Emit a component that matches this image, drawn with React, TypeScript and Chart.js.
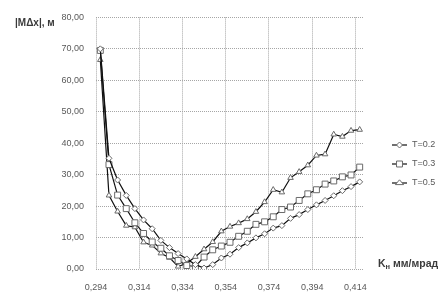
import React, { useEffect, useRef } from 'react';
import { Chart, registerables } from 'chart.js';

Chart.register(...registerables);

const categories = [
  '0,294', '0,298', '0,302', '0,306', '0,310', '0,314', '0,318', '0,322', '0,326', '0,330',
  '0,334', '0,338', '0,342', '0,346', '0,350', '0,354', '0,358', '0,362', '0,366', '0,370',
  '0,374', '0,378', '0,382', '0,386', '0,390', '0,394', '0,398', '0,402', '0,406', '0,410',
  '0,414',
];
const labelEvery = 5;

const seriesT02 = [
  70.0, 35.2, 28.3, 23.4, 19.2, 15.6, 12.8, 9.1, 6.8, 4.9,
  3.2, 1.4, 0.3, 1.4, 3.5, 4.7, 6.8, 8.3, 9.9, 11.2,
  13.0, 13.8, 16.1, 17.3, 18.9, 20.4, 21.8, 23.3, 24.9, 26.2,
  27.7,
];
const seriesT03 = [
  69.5, 33.2, 23.5, 19.2, 14.7, 11.3, 8.6, 6.6, 4.2, 2.7,
  1.1, 0.8, 3.8, 6.1, 7.3, 8.5, 10.4, 12.0, 14.2, 15.0,
  16.6, 18.9, 19.7, 21.8, 23.9, 25.2, 27.0, 28.0, 29.3, 29.9,
  32.4,
];
const seriesT05 = [
  66.5, 23.4, 18.3, 13.8, 13.3, 8.5, 7.5, 5.0, 3.6, 0.8,
  1.8, 3.9, 6.3, 8.6, 12.0, 13.5, 14.6, 15.9, 18.2, 21.3,
  25.2, 24.4, 29.0, 30.9, 33.0, 36.1, 36.5, 42.8, 42.1, 44.0,
  44.3,
];
const seriesNames = ['T=0.2', 'T=0.3', 'T=0.5'];
const yMin = 0;
const yMax = 80;
const yStep = 10;
const yTitle = '|MΔx|, м';
const xTitleMain = 'K';
const xTitleSub = 'н';
const xTitleRest = ' мм/мрад';

const FONT = '"Liberation Sans", Arial, sans-serif';
const TEXT_GRAY = '#595959';
const GRID = '#a6a6a6';
const LINE = '#111111';
const MARK = '#6a6a6a';

function drawMarker(ctx: CanvasRenderingContext2D, style: string, x: number, y: number, r: number) {
  ctx.beginPath();
  if (style === 'rectRot') {
    ctx.moveTo(x, y - r);
    ctx.lineTo(x + r, y);
    ctx.lineTo(x, y + r);
    ctx.lineTo(x - r, y);
    ctx.closePath();
  } else if (style === 'rect') {
    const s = r * Math.SQRT1_2;
    ctx.rect(x - s, y - s, 2 * s, 2 * s);
  } else {
    const h = r * 1.5;
    ctx.moveTo(x, y - r);
    ctx.lineTo(x + h * 0.577 * 1.5, y + r * 0.5);
    ctx.lineTo(x - h * 0.577 * 1.5, y + r * 0.5);
    ctx.closePath();
  }
  ctx.fillStyle = '#ffffff';
  ctx.fill();
  ctx.lineWidth = 1;
  ctx.strokeStyle = MARK;
  ctx.stroke();
}

const overlayPlugin = {
  id: 'overlay',
  afterDraw(chart: any) {
    const ctx: CanvasRenderingContext2D = chart.ctx;
    ctx.save();
    ctx.textBaseline = 'middle';
    ctx.textAlign = 'left';
    ctx.fillStyle = '#3a3a3a';
    ctx.font = `bold 10px ${FONT}`;
    ctx.fillText(yTitle, 15, 23);

    let x = 378;
    const y = 264;
    ctx.font = `bold 10.5px ${FONT}`;
    ctx.fillText(xTitleMain, x, y);
    x += ctx.measureText(xTitleMain).width;
    ctx.font = `bold 7.5px ${FONT}`;
    ctx.fillText(xTitleSub, x, y + 2.5);
    x += ctx.measureText(xTitleSub).width;
    ctx.font = `bold 10.5px ${FONT}`;
    ctx.fillText(xTitleRest, x, y);

    chart.data.datasets.forEach((ds: any, k: number) => {
      const ly = 145 + 19 * k;
      ctx.beginPath();
      ctx.moveTo(392, ly);
      ctx.lineTo(407, ly);
      ctx.strokeStyle = ds.borderColor;
      ctx.lineWidth = ds.borderWidth;
      ctx.stroke();
      drawMarker(ctx, ds.pointStyle, 399.5, ly, ds.pointRadius);
      ctx.fillStyle = TEXT_GRAY;
      ctx.font = `9px ${FONT}`;
      ctx.fillText(ds.label, 412, ly);
    });
    ctx.restore();
  },
};

export default function App() {
  const ref = useRef<HTMLCanvasElement | null>(null);

  useEffect(() => {
    if (!ref.current) return;
    const mk = (label: string, data: number[], pointStyle: string, pointRadius: number) => ({
      label,
      data,
      borderColor: LINE,
      borderWidth: 1.2,
      pointStyle,
      pointRadius,
      pointBackgroundColor: '#ffffff',
      pointBorderColor: MARK,
      pointBorderWidth: 1,
      tension: 0,
      fill: false,
    });
    const chart = new Chart(ref.current, {
      type: 'line',
      data: {
        labels: categories,
        datasets: [
          mk(seriesNames[0], seriesT02, 'rectRot', 3),
          mk(seriesNames[1], seriesT03, 'rect', 4.2),
          mk(seriesNames[2], seriesT05, 'triangle', 3.2),
        ],
      },
      options: {
        animation: false,
        responsive: false,
        maintainAspectRatio: false,
        events: [],
        layout: { padding: { top: 12, right: 82, left: 0, bottom: 0 } },
        plugins: {
          legend: { display: false },
          tooltip: { enabled: false },
          title: { display: false },
        },
        scales: {
          x: {
            type: 'category',
            offset: true,
            grid: {
              offset: true,
              drawTicks: false,
              lineWidth: 1,
              color: (c: any) =>
                typeof c.index === 'number' && c.index % labelEvery === 0 && c.index < categories.length
                  ? GRID
                  : 'rgba(0,0,0,0)',
            },
            border: { display: false, dash: [1, 1] },
            ticks: {
              autoSkip: false,
              maxRotation: 0,
              minRotation: 0,
              padding: 13,
              labelOffset: -4.3,
              color: TEXT_GRAY,
              font: { family: FONT, size: 9 },
              callback: (_v: any, i: number) => (i % labelEvery === 0 ? categories[i] : ''),
            },
            afterFit: (s: any) => {
              s.height = 28;
            },
          },
          y: {
            min: yMin,
            max: yMax,
            grid: { drawTicks: false, color: GRID, lineWidth: 1 },
            border: { display: false, dash: [1, 1] },
            ticks: {
              stepSize: yStep,
              padding: 12,
              color: TEXT_GRAY,
              font: { family: FONT, size: 9 },
              callback: (v: any) => Number(v).toFixed(2).replace('.', ','),
            },
            afterFit: (s: any) => {
              s.width = 96;
            },
          },
        },
      },
      plugins: [overlayPlugin],
    } as any);
    return () => chart.destroy();
  }, []);

  return (
    <div style={{ position: 'fixed', left: 0, top: 0, width: 446, height: 297, background: '#fff' }}>
      <canvas ref={ref} width={446} height={297} style={{ width: 446, height: 297, display: 'block' }} />
    </div>
  );
}
